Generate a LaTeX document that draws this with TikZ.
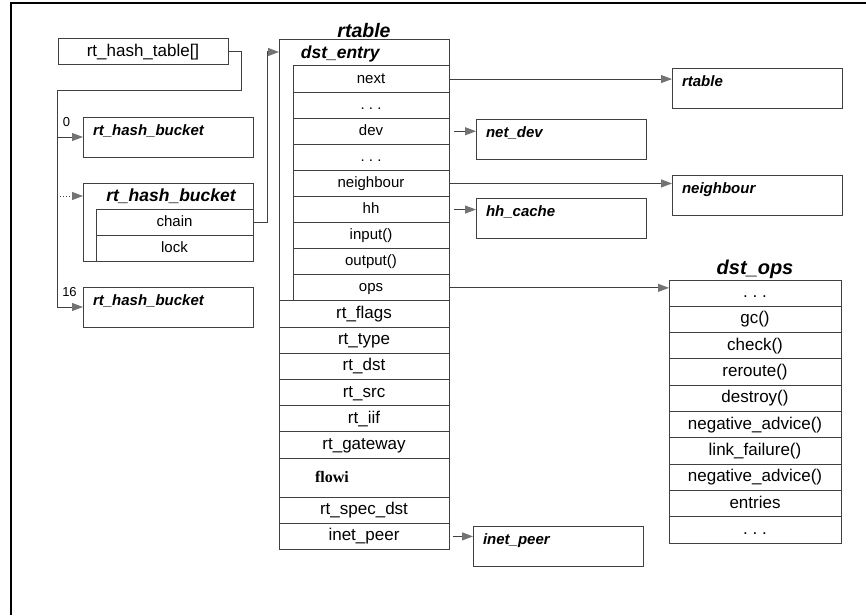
\documentclass[tikz,border=0pt]{standalone}
\usepackage{fontspec}
\setmainfont{Liberation Sans}
\newfontfamily\flowifont{Liberation Serif}
\usetikzlibrary{positioning, arrows.meta, fit, calc}

\begin{document}
\begin{tikzpicture}[
  x=1pt, y=-1pt, line width=1pt,
  fld/.style={draw=black!75, outer sep=0pt, inner sep=0pt, text height=11pt, text depth=3pt,
              font=\fontsize{15}{18}\selectfont},
  dfld/.style={fld, minimum width=156pt, minimum height=26.1pt},
  rfld/.style={fld, minimum width=170pt, minimum height=26.2pt, text height=12.5pt, text depth=3.5pt,
               font=\fontsize{17}{20}\selectfont},
  ofld/.style={rfld, minimum width=172pt, minimum height=26.3pt},
  sbox/.style={draw=black!75, outer sep=0pt, anchor=north west, align=left, text width=150pt,
               inner xsep=10pt, inner ysep=3pt, text height=15pt, text depth=19pt,
               font=\fontsize{15}{18}\selectfont\bfseries\itshape},
  ttl/.style={font=\fontsize{17.5}{20}\selectfont\bfseries\itshape},
  num/.style={font=\fontsize{13}{15}\selectfont, inner sep=1pt},
  arr/.style={draw=black!75, -{Triangle[length=11pt, width=8pt, color=black!55]}},
]
\useasboundingbox (0,0) rectangle (866,615);

% --- frame ---
\draw[line width=2.5pt] (11,615) -- (11,3) -- (866,3);

% --- hash table and buckets ---
\node[draw=black!75, outer sep=0pt, minimum width=170pt, minimum height=26pt,
      font=\fontsize{17}{20}\selectfont] (tbl) at (143,52) {rt\_hash\_table[]};
\node[sbox] (b0) at (83,117) {rt\_hash\_bucket};
\node[draw=black!75, outer sep=0pt, minimum width=170pt, minimum height=78pt,
      anchor=north west] (bkt) at (83,183) {};
\node[fld, minimum width=157pt, minimum height=26pt, anchor=north east] (chain) at (253,209) {chain};
\node[fld, minimum width=157pt, minimum height=26pt, below=0pt of chain] (lock) {lock};
\node[ttl] (bktt) at (171,196) {rt\_hash\_bucket};
\node[sbox] (b16) at (83,287) {rt\_hash\_bucket};
\node[num] (n0) at (66.5,122.5) {0};
\node[num] (n16) at (69.5,292) {16};

% --- rtable / dst_entry ---
\coordinate (tl) at (279,40);
\node[ttl, anchor=west] (de) at (297,54) {dst\_entry};
\node[dfld, anchor=north east] (next) at (449,66) {next};
\node[dfld, below=0pt of next] (dots1) {.~.~.};
\node[dfld, below=0pt of dots1] (dev) {dev};
\node[dfld, below=0pt of dev] (dots2) {.~.~.};
\node[dfld, below=0pt of dots2] (nbr) {neighbour};
\node[dfld, below=0pt of nbr] (hh) {hh};
\node[dfld, below=0pt of hh] (inp) {input()};
\node[dfld, below=0pt of inp] (outp) {output()};
\node[dfld, below=0pt of outp] (ops) {ops};
\node[rfld, anchor=north west] (flags) at (tl |- ops.south) {rt\_flags};
\node[rfld, below=0pt of flags] (type) {rt\_type};
\node[rfld, below=0pt of type] (dst) {rt\_dst};
\node[rfld, below=0pt of dst] (src) {rt\_src};
\node[rfld, below=0pt of src] (iif) {rt\_iif};
\node[rfld, below=0pt of iif] (gw) {rt\_gateway};
\node[rfld, below=0pt of gw, minimum height=39pt, text width=98pt, inner xsep=36pt, align=left,
      font=\fontsize{16}{19}\flowifont\bfseries] (flowi) {flowi};
\node[rfld, below=0pt of flowi] (spec) {rt\_spec\_dst};
\node[rfld, below=0pt of spec] (peer) {inet\_peer};
\node[draw=black!75, outer sep=0pt, inner sep=0pt, fit=(tl)(peer),
      label={[ttl, font=\fontsize{19.5}{22}\selectfont\bfseries\itshape, label distance=-1.5pt]above:rtable}] (rt) {};

% --- pointed-to structures ---
\node[sbox] (rtb) at (672,69) {rtable};
\node[sbox] (netdev) at (476,119) {net\_dev};
\node[sbox] (nbrb) at (672,175) {neighbour};
\node[sbox] (hhc) at (476,198) {hh\_cache};
\node[sbox] (ipb) at (473,526) {inet\_peer};

% --- dst_ops ---
\node[ofld, anchor=north west,
      label={[ttl, font=\fontsize{20}{22}\selectfont\bfseries\itshape, label distance=-2pt]above:dst\_ops}] (o1) at (669,280) {.~.~.};
\node[ofld, below=0pt of o1] (ogc) {gc()};
\node[ofld, below=0pt of ogc] (ocheck) {check()};
\node[ofld, below=0pt of ocheck] (oreroute) {reroute()};
\node[ofld, below=0pt of oreroute] (odestroy) {destroy()};
\node[ofld, below=0pt of odestroy] (oneg1) {negative\_advice()};
\node[ofld, below=0pt of oneg1] (olink) {link\_failure()};
\node[ofld, below=0pt of olink] (oneg2) {negative\_advice()};
\node[ofld, below=0pt of oneg2] (oentries) {entries};
\node[ofld, below=0pt of oentries] (o10) {.~.~.};

% --- pointers ---
\coordinate (jn) at (57,91);
\draw[arr] (tbl.east) -- ++(13,0) |- (jn) |- (b16.west);
\draw[arr] (jn |- b0.west) -- (b0.west);
\draw[arr, dotted] (jn |- bktt) -- (bktt -| bkt.west);
\draw[arr] (chain.east) -- ++(14,0) |- (tl |- 0,52);
\draw[arr] (next.east) -- (next.east -| rtb.west);
\draw[arr] ([xshift=5pt]dev.east) -- (dev.east -| netdev.west);
\draw[arr] (nbr.east) -- (nbr.east -| nbrb.west);
\draw[arr] ([xshift=5pt]hh.east) -- (hh.east -| hhc.west);
\draw[arr] (ops.east) -- (ops.east -| o1.west);
\draw[arr] ([xshift=4pt]peer.east) -- (peer.east -| ipb.west);

\end{tikzpicture}
\end{document}
